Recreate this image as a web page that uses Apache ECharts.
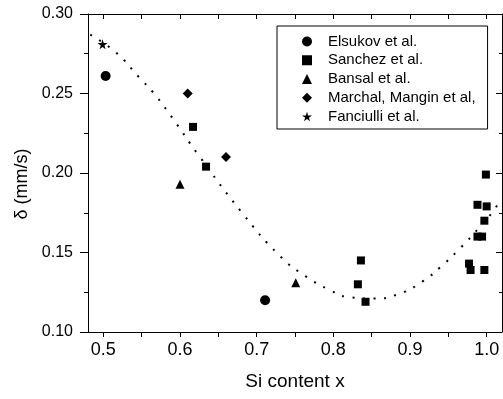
<!DOCTYPE html>
<html>
<head>
<meta charset="utf-8">
<script src="https://cdn.jsdelivr.net/npm/echarts@6/dist/echarts.min.js"></script>
<style>
  html, body { margin: 0; padding: 0; background: #fff; }
  #chart { width: 503px; height: 399px; }
</style>
</head>
<body>
<div id="chart"></div>
<script>
// values
const elsukov = [[0.503, 0.261], [0.711, 0.120]];
const sanchez = [
  [0.617, 0.229], [0.634, 0.204],
  [0.836, 0.145], [0.832, 0.130], [0.842, 0.119],
  [0.999, 0.199], [0.988, 0.180], [1.000, 0.179], [0.997, 0.170],
  [0.988, 0.160], [0.994, 0.160],
  [0.977, 0.143], [0.979, 0.139], [0.997, 0.139]
];
const bansal = [[0.600, 0.193], [0.751, 0.131]];
const marchal = [[0.610, 0.250], [0.660, 0.210]];
const fanciulli = [[0.499, 0.281]];
// dotted guide curve
const fitCurve = [
  [0.483, 0.287], [0.516, 0.276], [0.547, 0.260], [0.566, 0.250], [0.591, 0.234],
  [0.623, 0.212], [0.681, 0.175], [0.730, 0.148], [0.764, 0.135], [0.797, 0.126],
  [0.819, 0.122], [0.852, 0.121], [0.886, 0.124], [0.917, 0.132], [0.940, 0.141],
  [0.962, 0.151], [0.991, 0.166], [1.010, 0.177], [1.017, 0.183]
];
const seriesNames = ["Elsukov et al.", "Sanchez et al.", "Bansal et al.", "Marchal, Mangin et al,", "Fanciulli et al."];
const xLabelValues = [0.5, 0.6, 0.7, 0.8, 0.9, 1.0];
const xTickValues = [0.5, 0.55, 0.6, 0.65, 0.7, 0.75, 0.8, 0.85, 0.9, 0.95, 1.0];

const STAR = "path://M50,0 L61,35 L98,35 L68,57 L79,91 L50,70 L21,91 L32,57 L2,35 L39,35 Z";
const FONT = "Liberation Sans";
const black = "#000";

const chart = echarts.init(document.getElementById("chart"), null, { renderer: "canvas" });

const scatter = (name, data, symbol, size) => ({
  name,
  type: "scatter",
  data,
  symbol,
  symbolSize: size,
  itemStyle: { color: black, opacity: 1 },
  z: 3,
});

chart.setOption({
  animation: false,
  backgroundColor: "#fff",
  textStyle: { fontFamily: FONT, color: black },
  grid: { left: 88, right: 1, top: 14, bottom: 67 },
  legend: {
    data: seriesNames,
    orient: "vertical",
    left: 277,
    top: 26,
    padding: [7, 12, 4, 25],
    itemWidth: 10,
    itemHeight: 10,
    itemGap: 1.75,
    borderColor: black,
    borderWidth: 1,
    backgroundColor: "#fff",
    textStyle: { fontFamily: FONT, fontSize: 15, color: black, lineHeight: 17, padding: [0, 0, 0, 11] },
  },
  xAxis: [
    {
      type: "value",
      position: "bottom",
      min: 0.48,
      max: 1.02,
      name: "Si content x",
      nameLocation: "middle",
      nameGap: 40,
      nameTextStyle: { fontFamily: FONT, fontSize: 19, color: black },
      axisLine: { show: true, lineStyle: { color: black, width: 1 } },
      axisTick: { show: true, length: 5, customValues: xTickValues, lineStyle: { color: black } },
      axisLabel: {
        customValues: xLabelValues,
        margin: 9,
        fontFamily: FONT,
        fontSize: 18,
        color: black,
        formatter: (v) => v.toFixed(1),
      },
      splitLine: { show: false },
    },
    {
      type: "value",
      position: "top",
      min: 0.48,
      max: 1.02,
      axisLine: { show: true, lineStyle: { color: black, width: 1 } },
      axisTick: { show: true, inside: true, length: 5, customValues: xTickValues, lineStyle: { color: black } },
      axisLabel: { show: false },
      splitLine: { show: false },
    },
  ],
  yAxis: [
    {
      type: "value",
      position: "left",
      min: 0.10,
      max: 0.30,
      interval: 0.05,
      name: "δ (mm/s)",
      nameLocation: "middle",
      nameGap: 57,
      nameTextStyle: { fontFamily: FONT, fontSize: 18, color: black, padding: [0, 22, 0, 0] },
      axisLine: { show: true, lineStyle: { color: black, width: 1 } },
      axisTick: { show: true, length: 8, lineStyle: { color: black } },
      minorTick: { show: true, splitNumber: 2, length: 4, lineStyle: { color: black } },
      axisLabel: { margin: 15, fontFamily: FONT, fontSize: 16, color: black, formatter: (v) => v.toFixed(2) },
      splitLine: { show: false },
    },
    {
      type: "value",
      position: "right",
      min: 0.10,
      max: 0.30,
      interval: 0.05,
      axisLine: { show: true, lineStyle: { color: black, width: 1 } },
      axisTick: { show: true, inside: true, length: 6, lineStyle: { color: black } },
      minorTick: { show: true, splitNumber: 2, length: 3, lineStyle: { color: black } },
      axisLabel: { show: false },
      splitLine: { show: false },
    },
  ],
  series: [
    {
      name: "fit",
      type: "line",
      data: fitCurve,
      smooth: true,
      symbol: "none",
      lineStyle: { color: black, width: 2, type: [2, 8.5], cap: "butt" },
      z: 2,
    },
    scatter(seriesNames[0], elsukov, "circle", 10),
    scatter(seriesNames[1], sanchez, "rect", 8),
    scatter(seriesNames[2], bansal, "triangle", 9),
    scatter(seriesNames[3], marchal, "diamond", 10),
    scatter(seriesNames[4], fanciulli, STAR, 10),
  ],
});

window.addEventListener("resize", () => chart.resize());
</script>
</body>
</html>
